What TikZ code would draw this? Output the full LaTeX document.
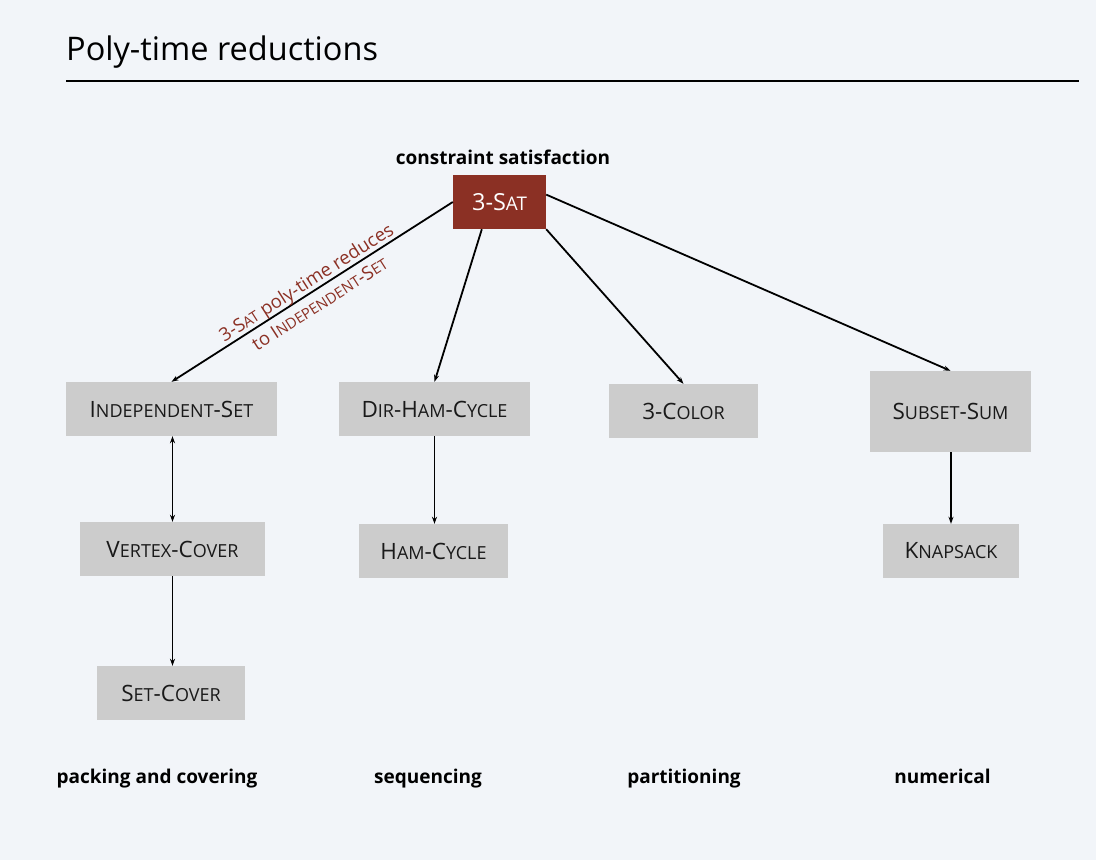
\documentclass[tikz,border=0pt]{standalone}
\usepackage{fontspec}
\setmainfont{Open Sans}
\usetikzlibrary{arrows.meta}
\definecolor{bg}{HTML}{F2F5F9}
\definecolor{satred}{HTML}{8B3024}
\definecolor{boxgray}{HTML}{CCCCCC}
\newcommand\sm[1]{\scalebox{0.8}{#1}}
\begin{document}
\begin{tikzpicture}[x=1pt,y=-1pt,
  prob/.style={fill=boxgray, minimum height=54pt, inner sep=0pt, text=black!90,
    font=\fontsize{22.5}{27}\selectfont},
  cat/.style={inner sep=0pt, anchor=base, font=\bfseries\fontsize{19}{23}\selectfont},
  arr/.style={-{Stealth[length=7pt,width=5pt]}, line width=1.8pt},
  darr/.style={{Stealth[length=7pt,width=5pt]}-{Stealth[length=7pt,width=5pt]}, line width=1.8pt}]
\fill[bg] (0,0) rectangle (1096,860);
\useasboundingbox (0,0) rectangle (1096,860);

\node[anchor=base west, inner sep=0pt, font=\fontsize{32.5}{38}\selectfont] (title) at (66,60) {Poly-time reductions};
\draw[line width=1.4pt] (66,81) -- (1079,81);

\node[cat] (cs) at (503,164) {constraint satisfaction};
\node[prob, fill=satred, text=white, minimum width=93pt, font=\fontsize{23.5}{28}\selectfont] (sat) at (499.5,202) {3-S\sm{AT}};

\node[prob, minimum width=211pt] (is) at (171.5,409) {I\sm{NDEPENDENT}-S\sm{ET}};
\node[prob, minimum width=185pt] (vc) at (172.5,549) {V\sm{ERTEX}-C\sm{OVER}};
\node[prob, minimum width=148pt] (sc) at (171,693) {S\sm{ET}-C\sm{OVER}};
\node[prob, minimum width=191pt] (dhc) at (434.5,409) {D\sm{IR}-H\sm{AM}-C\sm{YCLE}};
\node[prob, minimum width=149pt] (hc) at (433.5,551) {H\sm{AM}-C\sm{YCLE}};
\node[prob, minimum width=149pt] (col) at (683.5,411) {3-C\sm{OLOR}};
\node[prob, minimum width=161pt, minimum height=81pt] (ss) at (950.5,411.5) {S\sm{UBSET}-S\sm{UM}};
\node[prob, minimum width=136pt] (ks) at (951,551) {K\sm{NAPSACK}};

\node[cat] (pc) at (157,783) {packing and covering};
\node[cat] (seq) at (428,783) {sequencing};
\node[cat] (part) at (684,783) {partitioning};
\node[cat] (num) at (942.5,783) {numerical};

\draw[arr] (sat.west) -- (is.north)
  node[midway, sloped, align=center, text=satred, inner sep=0pt, yshift=-1pt,
       font=\fontsize{18.5}{25}\selectfont] (lbl) {3-S\sm{AT} poly-time reduces\\to I\sm{NDEPENDENT}-S\sm{ET}};
\draw[arr] (sat.237) -- (dhc.north);
\draw[arr] (sat.south east) -- (col.north);
\draw[arr] (sat.9) -- (ss.north);
\draw[darr] (is.south -| vc.north) -- (vc.north);
\draw[arr] (vc.south) -- (vc.south |- sc.north);
\draw[arr] (dhc.south) -- (dhc.south |- hc.north);
\draw[arr] (ss.south -| ks.north) -- (ks.north);
\end{tikzpicture}
\end{document}
